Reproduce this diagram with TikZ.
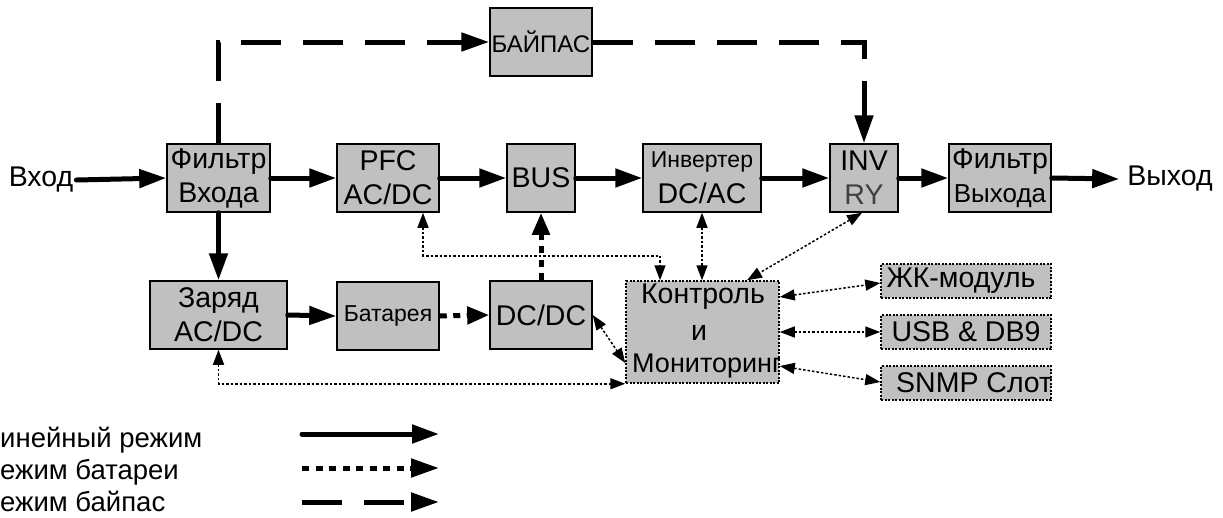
\documentclass[tikz,border=0pt]{standalone}
\usepackage{fontspec}
\setmainfont{Liberation Sans}
\usetikzlibrary{arrows.meta}
\definecolor{boxgray}{RGB}{192,192,192}
\definecolor{rygray}{RGB}{64,64,64}
\begin{document}
\begin{tikzpicture}[x=1pt,y=-1pt,
  box/.style={draw=black, line width=1.5pt, fill=boxgray, inner sep=0pt, align=center,
    minimum width=102pt, minimum height=68pt, font=\fontsize{28.5}{34}\selectfont},
  dbox/.style={box, dash pattern=on 2pt off 1.5pt},
  lbl/.style={inner sep=0pt, font=\fontsize{28.5}{34}\selectfont},
  main/.style={line width=5pt, line cap=round, -{Triangle[length=27pt,width=18pt]}},
  batt/.style={line width=5pt, dash pattern=on 7pt off 6.5pt, -{Triangle[length=22pt,width=17pt]}},
  byps/.style={line width=5pt, dash pattern=on 40pt off 22pt, -{Triangle[length=28pt,width=18pt]}},
  ctrl/.style={line width=1.5pt, dash pattern=on 2.5pt off 2pt,
    {Triangle[length=15pt,width=11pt]}-{Triangle[length=15pt,width=11pt]}}]
\useasboundingbox (0,0) rectangle (1223,517);
\fill[white] (0,0) rectangle (1223,517);

% main row
\node[lbl, inner sep=3pt] (vin) at (41,180) {Вход};
\node[box, minimum width=103pt] (fin) at (218.5,178) {Фильтр\\Входа};
\node[box] (pfc) at (388,178) {PFC\\AC/DC};
\node[box, minimum width=68pt] (bus) at (541,178) {BUS};
\node[box, minimum width=118pt] (inv) at (702,178) {{\fontsize{23}{28}\selectfont Инвертер}\\[2pt]DC/AC};
\node[box, minimum width=68pt] (invry) at (864,178) {INV\\\textcolor{rygray}{RY}};
\node[box] (fout) at (1000,178) {Фильтр\\{\fontsize{26}{34}\selectfont Выхода}};
\node[lbl, inner sep=8pt] (vout) at (1170,179) {Выход};

% bypass
\node[box, font=\fontsize{24}{28}\selectfont] (byp) at (541,42) {БАЙПАС};

% second row
\node[box, minimum width=137pt] (chg) at (218.5,315) {Заряд\\AC/DC};
\node[box, font=\fontsize{23}{28}\selectfont] (bat) at (388,316) {Батарея};
\node[box] (dcdc) at (541,315) {DC/DC};

% control
\node[dbox, minimum width=153pt, minimum height=102pt] (ctl) at (702.5,332) {};
\begin{scope}
  \clip (ctl.south west) rectangle (ctl.north east);
  \node[lbl] (ctl1) at (703,297) {Контроль};
  \node[lbl] (ctl2) at (699,333) {и};
  \node[lbl, anchor=west, font=\fontsize{27}{32}\selectfont] (ctl3) at (632,366) {Мониторинг};
\end{scope}

% interfaces
\node[dbox, minimum width=170pt, minimum height=34pt] (lcd) at (966,281) {};
\node[lbl] (lcdt) at (961,281) {ЖК-модуль};
\node[dbox, minimum width=170pt, minimum height=34pt] (usb) at (966,332) {USB \& DB9};
\node[dbox, minimum width=170pt, minimum height=34pt] (snmp) at (966,383) {};
\begin{scope}
  \clip (snmp.south west) rectangle (snmp.north east);
  \node[lbl, anchor=west] (snmpt) at (896,383) {SNMP Слот};
\end{scope}

% power connectors
\draw[main] (vin.east) -- (fin.west);
\draw[main] (fin.east) -- (pfc.west);
\draw[main] (pfc.east) -- (bus.west);
\draw[main] (bus.east) -- (inv.west);
\draw[main] (inv.east) -- (invry.west);
\draw[main] (invry.east) -- (fout.west);
\draw[main] (fout.east) -- (vout.west);
\draw[main] (fin.south) -- (chg.north);
\draw[main] (chg.east) -- (bat.west);
\draw[batt] (bat.east) -- (dcdc.west);
\draw[batt] (dcdc.north) -- (bus.south);
\draw[byps] (fin.north) |- (byp.west);
\draw[byps] (byp.east) -| (invry.north);

% control connectors
\draw[ctrl] ([xshift=35pt]pfc.south) -- ++(0,43) -| ([xshift=-42.5pt]ctl.north);
\draw[ctrl] (inv.south) -- (inv.south |- ctl.north);
\draw[ctrl] ([xshift=-2pt]invry.south) -- ([xshift=44.5pt]ctl.north);
\draw[ctrl] (dcdc.east) -- ([yshift=-31pt]ctl.west);
\draw[ctrl] (chg.south) |- (ctl.south west);
\draw[ctrl] ([yshift=35pt]ctl.east) -- ([yshift=-2pt]lcd.west);
\draw[ctrl] (ctl.east) -- (usb.west);
\draw[ctrl] ([yshift=-34pt]ctl.east) -- ([yshift=1pt]snmp.west);

% legend
\node[lbl, anchor=base west, font=\fontsize{27.5}{32}\selectfont] (lg1) at (0,447) {инейный режим};
\node[lbl, anchor=base west, font=\fontsize{27.5}{32}\selectfont] (lg2) at (0,479) {ежим батареи};
\node[lbl, anchor=base west, font=\fontsize{27.5}{32}\selectfont] (lg3) at (0,511) {ежим байпас};
\coordinate (l1a) at (302,434); \coordinate (l1b) at (439,434);
\coordinate (l2a) at (302,468); \coordinate (l2b) at (439,468);
\coordinate (l3a) at (302,502); \coordinate (l3b) at (439,502);
\draw[main] (l1a) -- (l1b);
\draw[batt, -{Triangle[length=28pt,width=18pt]}] (l2a) -- (l2b);
\draw[byps] (l3a) -- (l3b);
\end{tikzpicture}
\end{document}
